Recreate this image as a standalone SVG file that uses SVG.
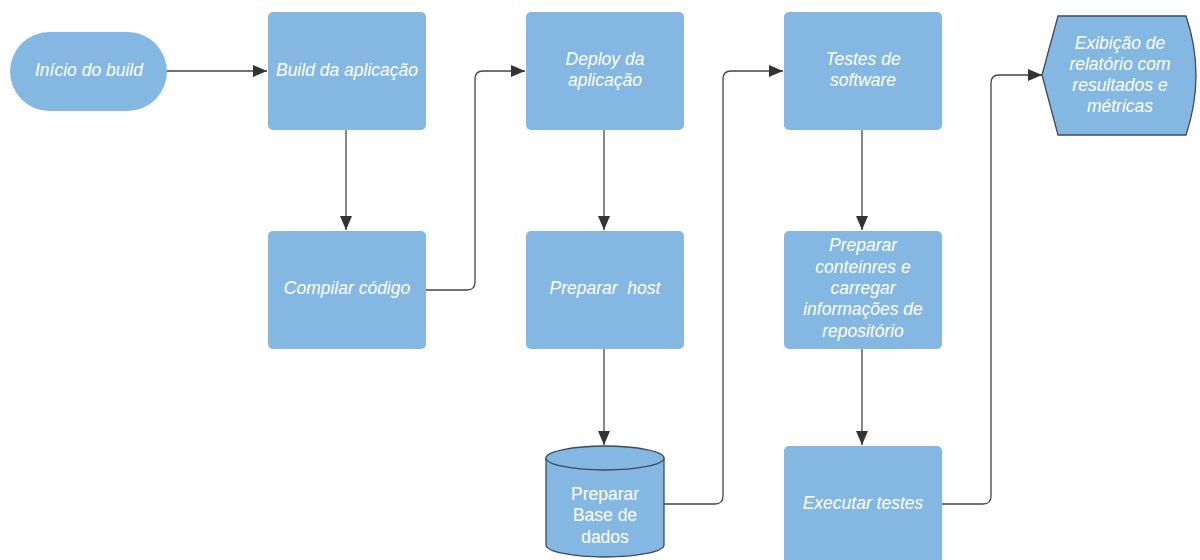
<svg xmlns="http://www.w3.org/2000/svg" width="1200" height="560" viewBox="0 0 1200 560">
<style>
.box{fill:#84b8e2;}
.ol{fill:#84b8e2;stroke:#3d4a57;stroke-width:1.3;}
.t{font-family:"Liberation Sans",Arial,sans-serif;font-size:17.5px;fill:#ffffff;font-style:italic;text-anchor:middle;white-space:pre;}
.n{font-style:normal;}
.c{fill:none;stroke:#444444;stroke-width:1.3;}
</style>
<defs>
<marker id="a" viewBox="0 0 14 12" refX="14" refY="6" markerWidth="14" markerHeight="12" markerUnits="userSpaceOnUse" orient="auto">
<path d="M0,0 L14,6 L0,12 z" fill="#333333"/>
</marker>
</defs>
<rect width="1200" height="560" fill="#ffffff"/>
<g id="connectors">
<path class="c" marker-end="url(#a)" d="M167,71 H267"/>
<path class="c" marker-end="url(#a)" d="M346,130 V230"/>
<path class="c" marker-end="url(#a)" d="M426,290 H467 Q475,290 475,282 V79 Q475,71 483,71 H525"/>
<path class="c" marker-end="url(#a)" d="M604,130 V230"/>
<path class="c" marker-end="url(#a)" d="M604,349 V445"/>
<path class="c" marker-end="url(#a)" d="M664,504 H715 Q723,504 723,496 V79 Q723,71 731,71 H783"/>
<path class="c" marker-end="url(#a)" d="M862,130 V230"/>
<path class="c" marker-end="url(#a)" d="M862,349 V445"/>
<path class="c" marker-end="url(#a)" d="M942,504 H983 Q991,504 991,496 V83 Q991,75 999,75 H1042"/>
</g>
<g id="start">
<rect class="box" x="10" y="32" width="157" height="79" rx="39.5"/>
<text class="t" x="89" y="76">Início do build</text>
</g>
<g id="build">
<rect class="box" x="268" y="12" width="158" height="118" rx="5"/>
<text class="t" x="347" y="76">Build da aplicação</text>
</g>
<g id="compilar">
<rect class="box" x="268" y="231" width="158" height="118" rx="5"/>
<text class="t" x="347" y="294">Compilar código</text>
</g>
<g id="deploy">
<rect class="box" x="526" y="12" width="158" height="118" rx="5"/>
<text class="t" x="605" y="65">Deploy da</text>
<text class="t" x="605" y="86">aplicação</text>
</g>
<g id="host">
<rect class="box" x="526" y="231" width="158" height="118" rx="5"/>
<text class="t" x="605" y="294">Preparar  host</text>
</g>
<g id="database">
<path class="ol" d="M546,458 A59,12 0 0 1 664,458 V545 A59,12 0 0 1 546,545 Z"/>
<path class="ol" d="M546,458 A59,12 0 0 0 664,458" fill="none"/>
<text class="t n" x="605" y="500">Preparar</text>
<text class="t n" x="605" y="521">Base de</text>
<text class="t n" x="605" y="543">dados</text>
</g>
<g id="testes">
<rect class="box" x="784" y="12" width="158" height="118" rx="5"/>
<text class="t" x="863" y="65">Testes de</text>
<text class="t" x="863" y="86">software</text>
</g>
<g id="preparar">
<rect class="box" x="784" y="231" width="158" height="118" rx="5"/>
<text class="t" x="863" y="251">Preparar</text>
<text class="t" x="863" y="273">conteinres e</text>
<text class="t" x="863" y="294">carregar</text>
<text class="t" x="863" y="315">informações de</text>
<text class="t" x="863" y="337">repositório</text>
</g>
<g id="executar">
<rect class="box" x="784" y="446" width="158" height="124" rx="5"/>
<text class="t" x="863" y="509">Executar testes</text>
</g>
<g id="display">
<path class="ol" d="M1042,75 L1058,16 H1186 Q1206,75 1186,135 H1058 Z"/>
<text class="t" x="1120" y="49">Exibição de</text>
<text class="t" x="1120" y="70">relatório com</text>
<text class="t" x="1120" y="91">resultados e</text>
<text class="t" x="1120" y="112">métricas</text>
</g>
</svg>
